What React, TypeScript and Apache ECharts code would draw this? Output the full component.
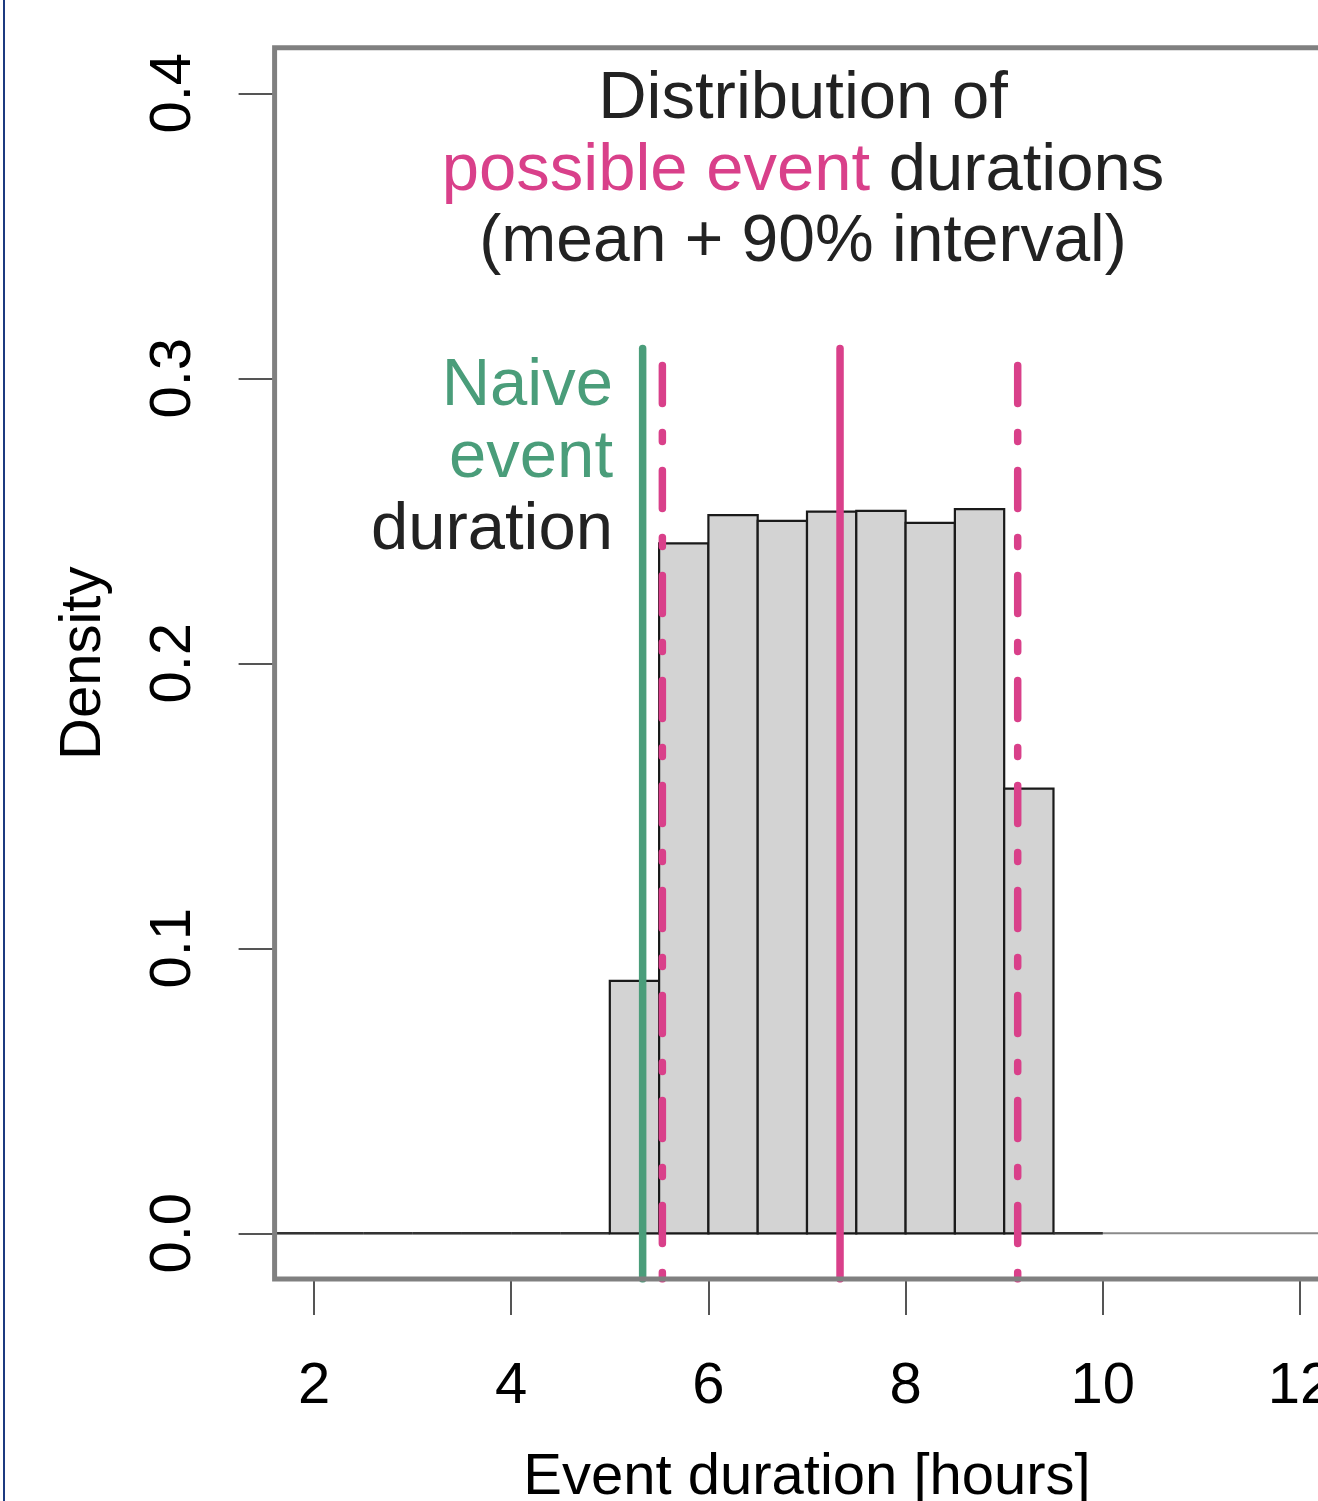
import React, { useEffect, useRef } from "react";
import * as echarts from "echarts";

// Histogram bins (hours) and densities
const binStarts = [1.5, 2, 2.5, 3, 3.5, 4, 4.5, 5, 5.5, 6, 6.5, 7, 7.5, 8, 8.5, 9, 9.5];
const binEnds = [2, 2.5, 3, 3.5, 4, 4.5, 5, 5.5, 6, 6.5, 7, 7.5, 8, 8.5, 9, 9.5, 10];
const densities = [0, 0, 0, 0, 0, 0, 0, 0.0886, 0.2421, 0.252, 0.25, 0.2532, 0.2535, 0.2493, 0.2541, 0.156, 0];

// Reference lines
const naiveDuration = 5.333;
const meanDuration = 7.335;
const intervalLow = 5.533;
const intervalHigh = 9.137;
const solidLineTop = 0.3105;
const dashedLineTop = 0.3045;

// Axes
const xTicks = [2, 4, 6, 8, 10, 12];
const yTicks = [0, 0.1, 0.2, 0.3, 0.4];
const xMin = 1.6;
const xMax = 12.4;
const yMin = -0.016;
const yMax = 0.416;

const PINK = "#d9408a";
const GREEN = "#4a9d7a";
const DARK = "#222222";
const FONT = "'Liberation Sans', Arial, Helvetica, sans-serif";

export default function App() {
  const ref = useRef<HTMLDivElement>(null);

  useEffect(() => {
    if (!ref.current) return;
    const chart = echarts.init(ref.current, undefined, { renderer: "svg" });

    const histData = binStarts.map((s, i) => [s, binEnds[i], densities[i]]);

    const vline = (x: number, top: number, dashed: boolean, color: string) => ({
      type: "line",
      data: [
        [x, top],
        [x, yMin],
      ],
      symbol: "none",
      silent: true,
      z: 5,
      lineStyle: {
        color,
        width: 7.5,
        cap: "round",
        type: dashed ? [38, 29, 9, 29] : "solid",
      },
    });

    chart.setOption({
      animation: false,
      backgroundColor: "#ffffff",
      grid: {
        left: 274.6,
        top: 47.7,
        width: 1064.8,
        height: 1231.2,
        show: true,
        borderColor: "#808080",
        borderWidth: 5,
        backgroundColor: "transparent",
        outerBoundsMode: "none",
        containLabel: false,
        z: 10,
      },
      xAxis: {
        type: "value",
        min: xMin,
        max: xMax,
        name: "Event duration [hours]",
        nameLocation: "middle",
        nameGap: 166,
        nameTextStyle: { fontSize: 58, fontFamily: FONT, color: "#000" },
        axisLine: { show: false, onZero: false },
        splitLine: { show: false },
        axisTick: {
          show: true,
          length: 36,
          customValues: xTicks,
          lineStyle: { color: "#555", width: 2 },
        },
        axisLabel: {
          customValues: xTicks,
          margin: 75,
          fontSize: 58,
          fontFamily: FONT,
          color: "#000",
          formatter: (v: number) => String(v),
        },
      },
      yAxis: {
        type: "value",
        min: yMin,
        max: yMax,
        name: "Density",
        nameLocation: "middle",
        nameRotate: 90,
        nameGap: 166,
        nameTextStyle: { fontSize: 58, fontFamily: FONT, color: "#000" },
        axisLine: { show: false, onZero: false },
        splitLine: { show: false },
        axisTick: {
          show: true,
          length: 36,
          customValues: yTicks,
          lineStyle: { color: "#555", width: 2 },
        },
        axisLabel: {
          customValues: yTicks,
          rotate: 90,
          margin: 76,
          fontSize: 58,
          fontFamily: FONT,
          color: "#000",
          formatter: (v: number) => v.toFixed(1),
        },
      },
      graphic: [
        {
          type: "line",
          shape: { x1: 4, y1: 0, x2: 4, y2: 1501 },
          style: { stroke: "#1c3a80", lineWidth: 2 },
          silent: true,
        },
        {
          type: "text",
          x: 803,
          y: 58,
          silent: true,
          style: {
            text: "{a|Distribution of}\n{p|possible event}{a| durations}\n{b|(mean + 90% interval)}",
            align: "center",
            verticalAlign: "top",
            rich: {
              a: { fill: DARK, fontSize: 67, fontFamily: FONT, lineHeight: 72 },
              p: { fill: PINK, fontSize: 67, fontFamily: FONT, lineHeight: 72 },
              b: { fill: DARK, fontSize: 66, fontFamily: FONT, lineHeight: 72 },
            },
          },
        },
        {
          type: "text",
          x: 613,
          y: 345,
          silent: true,
          style: {
            text: "{g|Naive}\n{g|event}\n{d|duration}",
            align: "right",
            verticalAlign: "top",
            rich: {
              g: { fill: GREEN, fontSize: 67, fontFamily: FONT, lineHeight: 72, align: "right" },
              d: { fill: DARK, fontSize: 67, fontFamily: FONT, lineHeight: 72, align: "right" },
            },
          },
        },
      ],
      series: [
        {
          type: "line",
          data: [
            [xMin, 0],
            [xMax, 0],
          ],
          symbol: "none",
          silent: true,
          z: 1,
          lineStyle: { color: "#8a8a8a", width: 2 },
        },
        {
          type: "custom",
          data: histData,
          encode: { x: [0, 1], y: 2 },
          clip: true,
          silent: true,
          z: 2,
          renderItem: (params: any, api: any) => {
            const x0 = api.value(0);
            const x1 = api.value(1);
            const d = api.value(2);
            const p0 = api.coord([x0, 0]);
            const p1 = api.coord([x1, d]);
            if (d === 0) {
              return {
                type: "line",
                shape: { x1: p0[0], y1: p0[1], x2: p1[0], y2: p0[1] },
                style: { stroke: "#333", lineWidth: 2.5 },
              };
            }
            return {
              type: "rect",
              shape: { x: p0[0], y: p1[1], width: p1[0] - p0[0], height: p0[1] - p1[1] },
              style: { fill: "#d3d3d3", stroke: "#1a1a1a", lineWidth: 2.2 },
            };
          },
        },
        vline(naiveDuration, solidLineTop, false, GREEN),
        vline(intervalLow, dashedLineTop, true, PINK),
        vline(meanDuration, solidLineTop, false, PINK),
        vline(intervalHigh, dashedLineTop, true, PINK),
      ],
    });

    return () => chart.dispose();
  }, []);

  return (
    <div
      style={{
        position: "absolute",
        left: 0,
        top: 0,
        width: 1318,
        height: 1501,
        overflow: "hidden",
        background: "#fff",
      }}
    >
      <div ref={ref} style={{ width: 1360, height: 1501 }} />
    </div>
  );
}
